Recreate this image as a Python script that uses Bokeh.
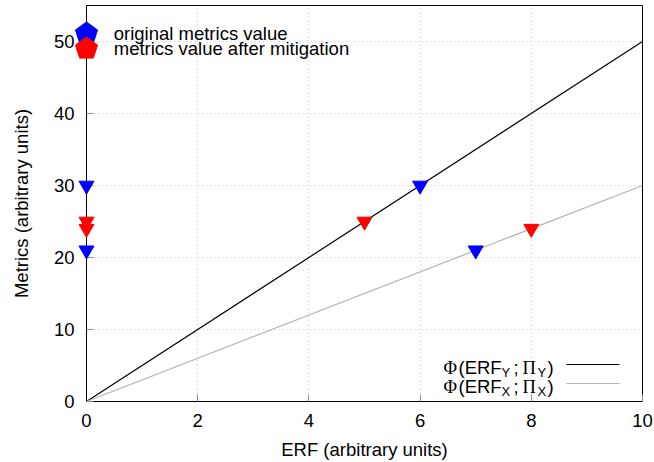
from bokeh.plotting import figure
from bokeh.models import FixedTicker, Range1d, Label, Arrow
from bokeh.core.properties import value
from bokeh.embed import file_html
from bokeh.resources import INLINE

# ---- data ----
orig_x = [0, 0, 6, 7]
orig_y = [30, 21, 30, 21]
mit_x = [0, 0, 5, 8]
mit_y = [25, 24, 25, 24]
phi_y_x = [0, 10]
phi_y_y = [0, 50]
phi_x_x = [0, 10]
phi_x_y = [0, 30]
x_ticks = [0, 2, 4, 6, 8, 10]
y_ticks = [0, 10, 20, 30, 40, 50]
legend_labels = ["original metrics value", "metrics value after mitigation"]
legend_colors = ["#0000ff", "#ff0000"]
legend_key_x = [0, 0]
legend_key_y = [51.1, 49.0]
legend_text_x = [0.49, 0.49]

FONT = "Liberation Sans"
FS = "18.5px"

p = figure(width=654, height=462, x_range=Range1d(0, 10), y_range=Range1d(0, 55),
           output_backend="svg", toolbar_location=None,
           min_border_left=86, min_border_right=12, min_border_top=5, min_border_bottom=60)

p.outline_line_color = "black"
p.outline_line_width = 1
p.outline_line_alpha = 1

for ax in (p.xaxis[0], p.yaxis[0]):
    ax.major_tick_in = 7
    ax.major_tick_out = 0
    ax.minor_tick_in = 0
    ax.minor_tick_out = 0
    ax.major_tick_line_color = "#909090"
    ax.axis_line_color = "black"
    ax.major_label_text_font = FONT
    ax.major_label_text_font_size = FS
    ax.major_label_text_color = "black"
    ax.axis_label_text_font = FONT
    ax.axis_label_text_font_size = FS
    ax.axis_label_text_font_style = "normal"
    ax.axis_label_text_color = "black"
    ax.major_label_standoff = 12

p.xaxis.ticker = FixedTicker(ticks=x_ticks)
p.yaxis.ticker = FixedTicker(ticks=y_ticks)
p.xaxis.axis_label = "ERF (arbitrary units)"
p.yaxis.axis_label = "Metrics (arbitrary units)"
p.xaxis.axis_label_standoff = 9
p.yaxis.axis_label_standoff = 19

p.xgrid.ticker = FixedTicker(ticks=x_ticks)
p.ygrid.ticker = FixedTicker(ticks=y_ticks)
for g in (p.xgrid[0], p.ygrid[0]):
    g.grid_line_color = "#c8c8c8"
    g.grid_line_dash = "1 3"
    g.grid_line_width = 1

p.line(phi_y_x, phi_y_y, line_color="black", line_width=1.2)
p.line(phi_x_x, phi_x_y, line_color="#b4b4b4", line_width=1.2)

p.scatter(orig_x, orig_y, marker="inverted_triangle", size=15,
          fill_color="#0000ff", line_color="#0000ff", level="overlay")
p.scatter(mit_x, mit_y, marker="inverted_triangle", size=15,
          fill_color="#ff0000", line_color="#ff0000", level="overlay")

# legend keys (pentagons)
if hasattr(p, "ngon"):
    p.ngon(x=legend_key_x, y=legend_key_y, radius=11.6, radius_units="screen", n=5,
           angle=0, fill_color=legend_colors, line_color=legend_colors,
           level="overlay")
p.text(x=legend_text_x, y=legend_key_y, text=legend_labels, text_font=value(FONT),
       text_font_size=FS, text_baseline="middle", text_align="left", text_color="black")

# bottom-right key (screen units relative to frame)
def lab(x, y, t, size=FS, font=FONT):
    p.add_layout(Label(x=x, y=y, x_units="screen", y_units="screen", text=t,
                       text_font=font, text_font_size=size, text_baseline="alphabetic",
                       text_align="left", text_color="black"))

for base, sub, col in ((34, "Y", "black"), (15, "X", "#b4b4b4")):
    lab(357, base, "Φ", font="Liberation Serif")
    lab(372, base, "(ERF")
    lab(415, base - 5, sub, size="13px")
    lab(427, base, ";")
    lab(436, base, "Π", font="Liberation Serif")
    lab(451, base - 5, sub, size="13px")
    lab(461, base, ")")
    p.add_layout(Arrow(end=None, start=None, x_start=480, x_end=533, y_start=base + 3,
                       y_end=base + 3, start_units="screen", end_units="screen",
                       line_color=col, line_width=1.2))

open("out.html", "w").write(file_html(p, INLINE))
